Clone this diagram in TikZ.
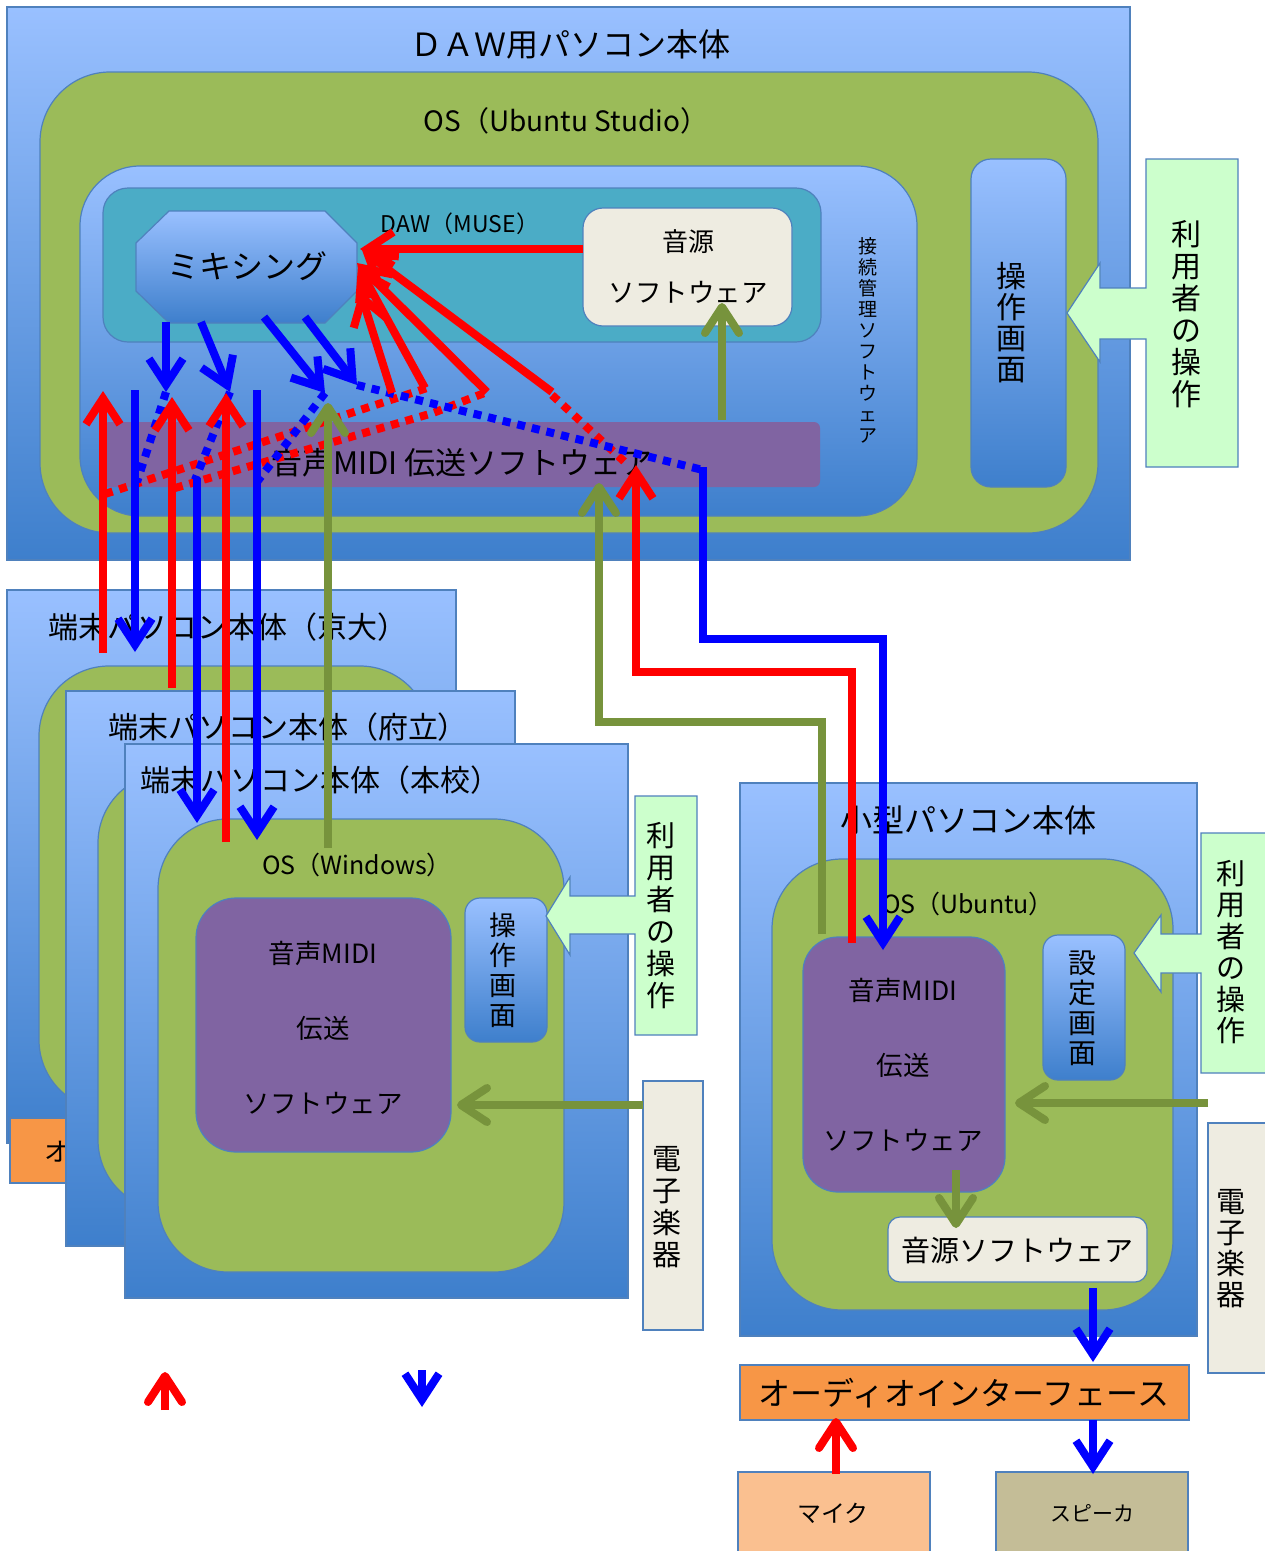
\documentclass[tikz,border=0pt]{standalone}
\usepackage{fontspec}
\setmainfont{Noto Sans CJK JP}
\usetikzlibrary{arrows.meta}
\definecolor{bTop}{RGB}{153,192,255}
\definecolor{bBot}{RGB}{62,127,204}
\definecolor{bord}{RGB}{79,129,189}
\definecolor{osgreen}{RGB}{155,187,89}
\definecolor{tealb}{RGB}{75,172,198}
\definecolor{purp}{RGB}{128,100,162}
\definecolor{cream}{RGB}{238,236,225}
\definecolor{lgreen}{RGB}{204,255,204}
\definecolor{orng}{RGB}{247,150,70}
\definecolor{micc}{RGB}{250,192,144}
\definecolor{spkc}{RGB}{196,189,151}
\definecolor{olive}{RGB}{119,147,60}
\definecolor{pred}{RGB}{255,0,0}
\definecolor{pblue}{RGB}{0,0,255}
\tikzset{
  blk/.style={anchor=north west, inner sep=0pt, outer sep=0pt, line width=1.2pt, draw=bord},
  grad/.style={blk, top color=bTop, bottom color=bBot},
  osbox/.style={blk, fill=osgreen, rounded corners=70pt},
  purpbox/.style={blk, fill=purp},
  creambox/.style={blk, fill=cream},
  callout/.style={fill=lgreen, draw=bord, line width=1.2pt},
  txt/.style={inner sep=0pt, text=black},
  vt/.style={inner sep=0pt, align=center, text=black},
  ar/.style={-{Straight Barb[length=26pt,width=34pt]}},
  arr/.style={-{Straight Barb[length=26pt,width=34pt,round]}},
  rl/.style={draw=pred, line width=8pt},
  bl/.style={draw=pblue, line width=8pt},
  gl/.style={draw=olive, line width=8pt},
  rdot/.style={draw=pred, line width=8pt, dash pattern=on 8pt off 7pt},
  bdot/.style={draw=pblue, line width=8pt, dash pattern=on 8pt off 7pt},
}
\newcommand\fs[1]{\fontsize{#1}{#1}\selectfont}
\begin{document}
\begin{tikzpicture}[x=1pt,y=-1pt]
\useasboundingbox (0,0) rectangle (1265,1551);
\clip (0,0) rectangle (1265,1551);
\fill[white] (0,0) rectangle (1265,1551);

% ===== DAW PC =====
\node[grad, minimum width=1123pt, minimum height=553pt] (daw) at (7,7) {};
\node[txt, font=\fs{32}] (dawt) at (570,44) {ＤＡＷ用パソコン本体};
\node[osbox, minimum width=1058pt, minimum height=461pt] (osu) at (40,72) {};
\node[txt, font=\fs{28}] (osut) at (566,121) {OS（Ubuntu Studio）};
\node[grad, rounded corners=60pt, minimum width=837pt, minimum height=350pt] (conn) at (80,166) {};
\node[vt, font=\fontsize{19}{21}\selectfont] (connt) at (868,340) {接\\続\\管\\理\\ソ\\フ\\ト\\ウ\\ェ\\ア};
\node[blk, fill=tealb, rounded corners=25pt, minimum width=718pt, minimum height=154pt] (muse) at (103,188) {};
\node[txt, font=\fs{23}] (muset) at (460,224) {DAW（MUSE）};
\path[grad] (169,211) -- (325,211) -- (357,243) -- (357,291) -- (325,323) -- (169,323) -- (136,291) -- (136,243) -- cycle;
\node[txt, font=\fs{32}] (mix) at (247,266) {ミキシング};
\node[creambox, rounded corners=20pt, minimum width=209pt, minimum height=118pt] (ongen) at (583,208) {};
\node[txt, font=\fs{26}] (ongent1) at (688,242) {音源};
\node[txt, font=\fs{26.5}] (ongent2) at (688,292) {ソフトウェア};
\node[purpbox, draw=none, rounded corners=6pt, minimum width=717pt, minimum height=65pt] (trans) at (103,422) {};
\node[txt, font=\fs{31}] (transt) at (462,463) {音声MIDI 伝送ソフトウェア};
\node[grad, rounded corners=20pt, minimum width=95pt, minimum height=328pt] (ops1) at (971,159) {};
\node[vt, font=\fontsize{30}{31}\selectfont] (ops1t) at (1011,323) {操\\作\\画\\面};
\draw[callout] (1146,159) -- (1238,159) -- (1238,467) -- (1146,467) -- (1146,339) -- (1100,339) -- (1100,362) -- (1067,313) -- (1100,263) -- (1100,288) -- (1146,288) -- cycle;
\node[vt, font=\fontsize{30}{32}\selectfont] (user1) at (1186,314) {利\\用\\者\\の\\操\\作};

% ===== terminals =====
\node[grad, minimum width=449pt, minimum height=553pt] (kyo) at (7,590) {};
\node[osbox, minimum width=391pt, minimum height=444pt] (kyoos) at (39,666) {};
\node[blk, fill=orng, minimum width=190pt, minimum height=65pt] (kyoai) at (10,1118) {};
\node[txt, font=\fs{26}, anchor=west] (kyoait) at (44,1151) {オーディオインターフェース};
\node[grad, minimum width=449pt, minimum height=555pt] (fu) at (66,691) {};
\node[osbox, minimum width=382pt, minimum height=437pt] (fuos) at (98,773) {};
\node[grad, minimum width=503pt, minimum height=554pt] (hon) at (125,744) {};
\node[osbox, minimum width=406pt, minimum height=453pt] (honos) at (158,819) {};
\node[txt, font=\fs{30}] (kyot) at (228,627) {端末パソコン本体（京大）};
\node[txt, font=\fs{30}] (fut) at (288,727) {端末パソコン本体（府立）};
\node[txt, font=\fs{30}] (hont) at (320,780) {端末パソコン本体（本校）};
\node[txt, font=\fs{25}] (honost) at (357,865) {OS（Windows）};
\node[purpbox, rounded corners=40pt, minimum width=255pt, minimum height=254pt] (honp) at (196,898) {};
\node[txt, font=\fs{26.5}] (honp1) at (323,953) {音声MIDI};
\node[txt, font=\fs{26.5}] (honp2) at (323,1028) {伝送};
\node[txt, font=\fs{26.5}] (honp3) at (323,1103) {ソフトウェア};
\node[grad, rounded corners=15pt, minimum width=82pt, minimum height=144pt] (ops2) at (465,898) {};
\node[vt, font=\fontsize{27}{30}\selectfont] (ops2t) at (503,970) {操\\作\\画\\面};
\draw[callout] (635,796) -- (697,796) -- (697,1035) -- (635,1035) -- (635,934) -- (570,934) -- (570,955) -- (546,916) -- (570,877) -- (570,896) -- (635,896) -- cycle;
\node[vt, font=\fontsize{29}{32}\selectfont] (user2) at (661,916) {利\\用\\者\\の\\操\\作};
\node[creambox, minimum width=60pt, minimum height=249pt] (inst1) at (643,1081) {};
\node[vt, font=\fontsize{29}{32}\selectfont] (inst1t) at (667,1207) {電\\子\\楽\\器};

% ===== small PC =====
\node[grad, minimum width=457pt, minimum height=553pt] (sm) at (740,783) {};
\node[txt, font=\fs{32}] (smt) at (968,820) {小型パソコン本体};
\node[osbox, minimum width=401pt, minimum height=451pt] (smos) at (772,859) {};
\node[txt, font=\fs{25}] (smost) at (968,904) {OS（Ubuntu）};
\node[purpbox, rounded corners=35pt, minimum width=202pt, minimum height=255pt] (smp) at (803,937) {};
\node[txt, font=\fs{26.5}] (smp1) at (903,990) {音声MIDI};
\node[txt, font=\fs{26.5}] (smp2) at (903,1065) {伝送};
\node[txt, font=\fs{26.5}] (smp3) at (903,1140) {ソフトウェア};
\node[grad, rounded corners=15pt, minimum width=82pt, minimum height=145pt] (settei) at (1043,935) {};
\node[vt, font=\fontsize{28}{30}\selectfont] (setteit) at (1082,1008) {設\\定\\画\\面};
\draw[callout] (1201,833) -- (1280,833) -- (1280,1073) -- (1201,1073) -- (1201,973) -- (1161,973) -- (1161,992) -- (1134,953) -- (1161,915) -- (1161,934) -- (1201,934) -- cycle;
\node[vt, font=\fontsize{29}{31.5}\selectfont] (user3) at (1231,952) {利\\用\\者\\の\\操\\作};
\node[creambox, minimum width=70pt, minimum height=250pt] (inst2) at (1208,1123) {};
\node[vt, font=\fontsize{29}{31}\selectfont] (inst2t) at (1231,1249) {電\\子\\楽\\器};
\node[creambox, rounded corners=12pt, minimum width=259pt, minimum height=65pt] (ongen2) at (888,1217) {};
\node[txt, font=\fs{29}] (ongen2t) at (1017,1250) {音源ソフトウェア};
\node[blk, fill=orng, minimum width=449pt, minimum height=55pt] (ai) at (740,1365) {};
\node[txt, font=\fs{32}] (ait) at (964,1393) {オーディオインターフェース};
\node[blk, fill=micc, minimum width=192pt, minimum height=90pt] (mic) at (738,1472) {};
\node[txt, font=\fs{24}] (mict) at (833,1513) {マイク};
\node[blk, fill=spkc, minimum width=192pt, minimum height=90pt] (spk) at (996,1472) {};
\node[txt, font=\fs{21}] (spkt) at (1092,1513) {スピーカ};

% ===== coordinates =====
\coordinate (m1a) at (166,322); \coordinate (m1b) at (166,392);
\coordinate (m2a) at (201,322); \coordinate (m2b) at (230,392);
\coordinate (m3a) at (264,317); \coordinate (m3b) at (325,393);
\coordinate (m4a) at (305,317); \coordinate (m4b) at (357,385);
\coordinate (d1) at (137,482); \coordinate (d2) at (195,480);
\coordinate (d3) at (257,482); \coordinate (d4) at (703,470);
\coordinate (k1a) at (135,390); \coordinate (k1b) at (135,652);
\coordinate (k2a) at (197,478); \coordinate (k2b) at (197,823);
\coordinate (k3a) at (257,390); \coordinate (k3b) at (257,840);
\coordinate (s1) at (703,467); \coordinate (s2) at (703,639);
\coordinate (s3) at (883,639); \coordinate (s4) at (883,950);
\coordinate (r1a) at (103,653); \coordinate (r1b) at (103,391);
\coordinate (r2a) at (172,688); \coordinate (r2b) at (172,397);
\coordinate (r3a) at (226,842); \coordinate (r3b) at (226,393);
\coordinate (rd1a) at (105,494); \coordinate (rd1b) at (427,388);
\coordinate (rd2a) at (175,488); \coordinate (rd2m) at (433,413); \coordinate (rd2b) at (487,392);
\coordinate (src) at (583,249); \coordinate (mx1) at (360,249);
\coordinate (q1) at (552,392); \coordinate (mx2) at (362,250);
\coordinate (q2) at (487,392); \coordinate (mx3) at (357,263);
\coordinate (q3) at (425,388); \coordinate (mx4) at (358,266);
\coordinate (q4) at (392,393); \coordinate (mx5) at (360,291);
\coordinate (rd3a) at (552,395); \coordinate (rd3b) at (628,465);
\coordinate (t1) at (852,943); \coordinate (t2) at (852,672);
\coordinate (t3) at (636,672); \coordinate (t4) at (636,465);
\coordinate (g1a) at (328,848); \coordinate (g1b) at (328,403);
\coordinate (g2a) at (722,420); \coordinate (g2b) at (722,303);
\coordinate (g3a) at (822,934); \coordinate (g3b) at (822,722);
\coordinate (g3c) at (599,722); \coordinate (g3d) at (599,483);
\coordinate (g4a) at (643,1105); \coordinate (g4b) at (457,1105);
\coordinate (g5a) at (1208,1103); \coordinate (g5b) at (1015,1103);
\coordinate (g6a) at (956,1170); \coordinate (g6b) at (956,1228);
\coordinate (o1a) at (1093,1288); \coordinate (o1b) at (1093,1362);
\coordinate (o2a) at (1093,1420); \coordinate (o2b) at (1093,1474);
\coordinate (o3a) at (836,1474); \coordinate (o3b) at (836,1418);
\coordinate (l1a) at (165,1410); \coordinate (l1b) at (165,1372);
\coordinate (l2a) at (422,1370); \coordinate (l2b) at (422,1407);

% ===== connectors =====
\draw[rdot] (rd1a) -- (rd1b);
\draw[rdot] (rd2a) -- (rd2m) -- (rd2b);
\draw[rdot] (rd3a) -- (rd3b);
\draw[bdot] (m1b) -- (d1);
\draw[bdot] (m2b) -- (d2);
\draw[bdot] (m3b) -- (d3);
\draw[bdot] (m4b) -- (d4);
\draw[bl, ar] (m1a) -- (m1b);
\draw[bl, ar] (m2a) -- (m2b);
\draw[bl, ar] (m3a) -- (m3b);
\draw[bl, ar] (m4a) -- (m4b);
\draw[rl, ar] (src) -- (mx1);
\draw[rl, ar] (q1) -- (mx2);
\draw[rl, ar] (q2) -- (mx3);
\draw[rl, ar] (q3) -- (mx4);
\draw[rl, ar] (q4) -- (mx5);
\draw[bl, ar] (k1a) -- (k1b);
\draw[bl, ar] (k2a) -- (k2b);
\draw[bl, ar] (k3a) -- (k3b);
\draw[rl, ar] (r1a) -- (r1b);
\draw[rl, ar] (r2a) -- (r2b);
\draw[rl, ar] (r3a) -- (r3b);
\draw[gl, arr] (g1a) -- (g1b);
\draw[gl, arr] (g2a) -- (g2b);
\draw[gl, arr] (g3a) -- (g3b) -- (g3c) -- (g3d);
\draw[rl, ar] (t1) -- (t2) -- (t3) -- (t4);
\draw[bl, ar] (s1) -- (s2) -- (s3) -- (s4);
\draw[gl, arr] (g4a) -- (g4b);
\draw[gl, arr] (g5a) -- (g5b);
\draw[gl, arr] (g6a) -- (g6b);
\draw[bl, ar] (o1a) -- (o1b);
\draw[bl, ar] (o2a) -- (o2b);
\draw[rl, arr] (o3a) -- (o3b);
\draw[rl, arr] (l1a) -- (l1b);
\draw[bl, ar] (l2a) -- (l2b);
\end{tikzpicture}
\end{document}
